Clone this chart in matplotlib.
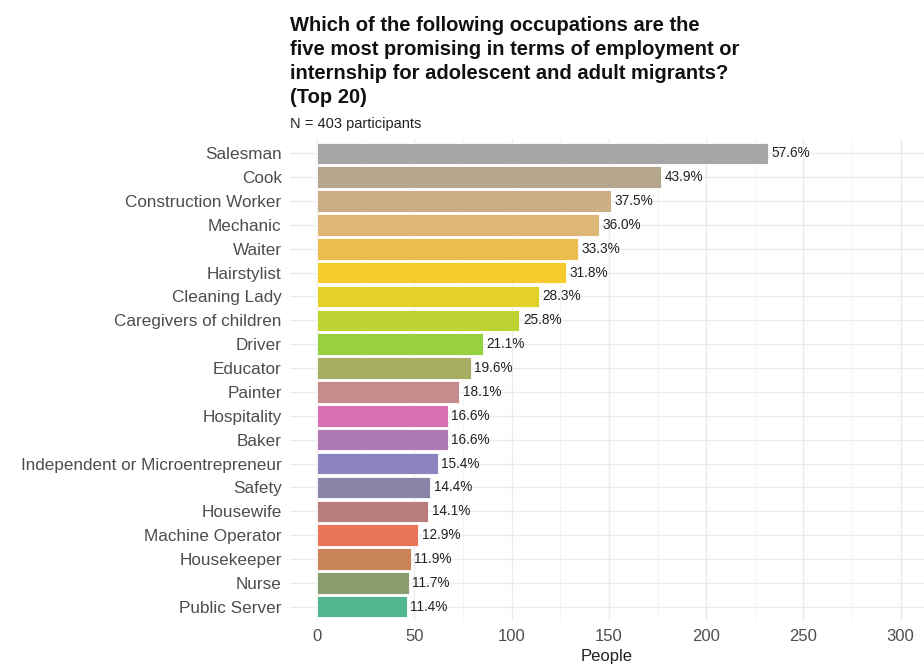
import matplotlib
matplotlib.use("Agg")
import matplotlib.pyplot as plt

plt.rcParams["font.family"] = ["Liberation Sans", "DejaVu Sans"]

categories = ["Salesman", "Cook", "Construction Worker", "Mechanic", "Waiter",
              "Hairstylist", "Cleaning Lady", "Caregivers of children", "Driver",
              "Educator", "Painter", "Hospitality", "Baker",
              "Independent or Microentrepreneur", "Safety", "Housewife",
              "Machine Operator", "Housekeeper", "Nurse", "Public Server"]
people = [232, 177, 151, 145, 134, 128, 114, 104, 85, 79, 73, 67, 67, 62, 58,
          57, 52, 48, 47, 46]
pct_labels = ["57.6%", "43.9%", "37.5%", "36.0%", "33.3%", "31.8%", "28.3%",
              "25.8%", "21.1%", "19.6%", "18.1%", "16.6%", "16.6%", "15.4%",
              "14.4%", "14.1%", "12.9%", "11.9%", "11.7%", "11.4%"]
colors = ["#A6A6A6", "#B6A68E", "#CCAE86", "#DEB776", "#EBBD4E", "#F7CB2E",
          "#E3D12A", "#BED233", "#98D140", "#A7AD62", "#C78B8B", "#D970B4",
          "#AF79B6", "#8B84C0", "#8885A6", "#B87D7C", "#EA7657", "#C98459",
          "#899C6E", "#52B78E"]
xticks = [0, 50, 100, 150, 200, 250, 300]

fig = plt.figure(figsize=(9.24, 6.64), dpi=100)
ax = fig.add_axes([290/924, 1 - 621/664, 1 - 290/924, (621 - 139)/664])

y = list(range(len(categories)))
ax.barh(y, people, height=0.9, color=colors, edgecolor="white", linewidth=0.6, zorder=3)
for yi, v, lab in zip(y, people, pct_labels):
    ax.text(v + 1.8, yi, lab, va="center", ha="left", fontsize=9.8, color="#222222", zorder=4)

ax.set_yticks(y)
ax.set_yticklabels(categories, fontsize=12.3, color="#4D4D4D")
ax.set_ylim(len(categories) - 0.4, -0.6)
ax.set_xlim(-14, 312)
ax.set_xticks(xticks)
ax.set_xticklabels([str(t) for t in xticks], fontsize=12, color="#4D4D4D")
ax.set_xticks([25, 75, 125, 175, 225, 275], minor=True)
ax.grid(True, which="major", color="#EBEBEB", linewidth=1.0, zorder=0)
ax.grid(True, which="minor", axis="x", color="#F3F3F3", linewidth=0.6, zorder=0)
ax.tick_params(axis="both", which="both", length=0, pad=6)
ax.tick_params(axis="y", pad=6)
for s in ax.spines.values():
    s.set_visible(False)
ax.set_xlabel("People", fontsize=12, color="#222222", labelpad=3)

fig.text(290/924, 1 - 16/664,
         "Which of the following occupations are the\nfive most promising in terms of employment or\ninternship for adolescent and adult migrants?\n(Top 20)",
         ha="left", va="top", fontsize=14.5, fontweight="bold", color="#111111",
         linespacing=1.33)
fig.text(290/924, 1 - 117/664, "N = 403 participants", ha="left", va="top",
         fontsize=10.5, color="#222222")

fig.savefig("out.png", dpi=100)
